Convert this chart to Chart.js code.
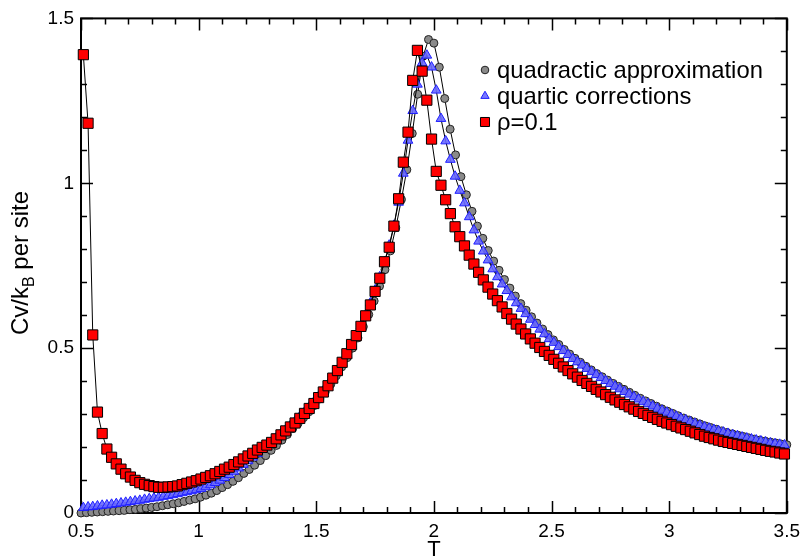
<!DOCTYPE html>
<html>
<head>
<meta charset="utf-8">
<script src="https://cdn.jsdelivr.net/npm/chart.js@4.4.0/dist/chart.umd.min.js"></script>
<style>
  html, body { margin: 0; padding: 0; background: #fff; }
  #wrap { width: 807px; height: 558px; }
</style>
</head>
<body>
<div id="wrap"><canvas id="cv"></canvas></div>
<script>
// T grid of the rho=0.1 and quartic runs
const tRho = [
  0.51,0.53,0.55,0.57,0.59,0.61,0.63,0.65,0.67,0.69,
  0.71,0.73,0.75,0.77,0.79,0.81,0.83,0.85,0.87,0.89,
  0.91,0.93,0.95,0.97,0.99,1.01,1.03,1.05,1.07,1.09,
  1.11,1.13,1.15,1.17,1.19,1.21,1.23,1.25,1.27,1.29,
  1.31,1.33,1.35,1.37,1.39,1.41,1.43,1.45,1.47,1.49,
  1.51,1.53,1.55,1.57,1.59,1.61,1.63,1.65,1.67,1.69,
  1.71,1.73,1.75,1.77,1.79,1.81,1.83,1.85,1.87,1.89,
  1.91,1.93,1.95,1.97,1.99,2.01,2.03,2.05,2.07,2.09,
  2.11,2.13,2.15,2.17,2.19,2.21,2.23,2.25,2.27,2.29,
  2.31,2.33,2.35,2.37,2.39,2.41,2.43,2.45,2.47,2.49,
  2.51,2.53,2.55,2.57,2.59,2.61,2.63,2.65,2.67,2.69,
  2.71,2.73,2.75,2.77,2.79,2.81,2.83,2.85,2.87,2.89,
  2.91,2.93,2.95,2.97,2.99,3.01,3.03,3.05,3.07,3.09,
  3.11,3.13,3.15,3.17,3.19,3.21,3.23,3.25,3.27,3.29,
  3.31,3.33,3.35,3.37,3.39,3.41,3.43,3.45,3.47,3.49
];

// rho = 0.1 (red squares)
const cvRho = [
  1.390,1.182,0.540,0.306,0.241,0.194,0.169,0.149,0.133,0.119,
  0.109,0.099,0.092,0.087,0.083,0.080,0.078,0.078,0.079,0.080,
  0.082,0.086,0.090,0.094,0.098,0.103,0.108,0.113,0.119,0.126,
  0.133,0.139,0.147,0.155,0.164,0.173,0.181,0.191,0.199,0.206,
  0.214,0.225,0.237,0.249,0.261,0.273,0.287,0.302,0.317,0.332,
  0.350,0.367,0.386,0.409,0.432,0.457,0.483,0.511,0.538,0.566,
  0.598,0.631,0.672,0.712,0.762,0.806,0.870,0.953,1.064,1.155,
  1.312,1.403,1.340,1.252,1.134,1.036,0.994,0.950,0.908,0.868,
  0.838,0.810,0.782,0.755,0.730,0.707,0.685,0.664,0.644,0.625,
  0.605,0.588,0.573,0.558,0.543,0.528,0.515,0.502,0.490,0.478,
  0.466,0.454,0.443,0.432,0.422,0.412,0.402,0.393,0.384,0.375,
  0.367,0.359,0.351,0.343,0.336,0.329,0.322,0.315,0.308,0.302,
  0.296,0.290,0.284,0.278,0.273,0.268,0.263,0.258,0.253,0.248,
  0.243,0.238,0.233,0.229,0.225,0.221,0.217,0.214,0.211,0.208,
  0.205,0.202,0.199,0.196,0.193,0.190,0.187,0.185,0.182,0.179
];

// quartic corrections (blue triangles), same T grid
const cvQuartic = [
  0.016,0.018,0.019,0.021,0.023,0.024,0.026,0.028,0.030,0.032,
  0.034,0.036,0.038,0.041,0.043,0.045,0.047,0.050,0.052,0.055,
  0.058,0.061,0.064,0.067,0.070,0.074,0.079,0.085,0.092,0.099,
  0.107,0.116,0.126,0.136,0.147,0.158,0.169,0.180,0.192,0.204,
  0.216,0.228,0.240,0.252,0.265,0.278,0.292,0.306,0.321,0.337,
  0.353,0.370,0.389,0.410,0.432,0.456,0.481,0.508,0.537,0.568,
  0.601,0.637,0.676,0.716,0.762,0.812,0.872,0.942,1.030,1.130,
  1.220,1.300,1.365,1.388,1.352,1.282,1.196,1.128,1.072,1.021,
  0.978,0.940,0.898,0.858,0.824,0.794,0.767,0.740,0.716,0.694,
  0.674,0.655,0.637,0.620,0.604,0.587,0.571,0.557,0.543,0.528,
  0.517,0.504,0.492,0.480,0.468,0.458,0.448,0.438,0.428,0.419,
  0.410,0.401,0.392,0.384,0.376,0.368,0.360,0.352,0.345,0.338,
  0.331,0.324,0.317,0.311,0.305,0.299,0.293,0.287,0.282,0.276,
  0.271,0.266,0.261,0.257,0.253,0.249,0.245,0.241,0.237,0.234,
  0.230,0.227,0.224,0.221,0.218,0.215,0.212,0.210,0.208,0.206
];

// quadratic approximation (grey circles) has its own T grid
const tQuad = [
  0.500,0.523,0.546,0.569,0.592,0.615,0.638,0.662,0.685,0.708,
  0.731,0.754,0.777,0.800,0.823,0.846,0.869,0.892,0.915,0.938,
  0.962,0.985,1.008,1.031,1.054,1.077,1.100,1.123,1.146,1.169,
  1.192,1.215,1.238,1.262,1.285,1.308,1.331,1.354,1.377,1.400,
  1.423,1.446,1.469,1.492,1.515,1.538,1.562,1.585,1.608,1.631,
  1.654,1.677,1.700,1.723,1.746,1.769,1.792,1.815,1.838,1.862,
  1.885,1.908,1.931,1.954,1.977,2.000,2.023,2.046,2.069,2.092,
  2.115,2.138,2.162,2.185,2.208,2.231,2.254,2.277,2.300,2.323,
  2.346,2.369,2.392,2.415,2.438,2.462,2.485,2.508,2.531,2.554,
  2.577,2.600,2.623,2.646,2.669,2.692,2.715,2.738,2.762,2.785,
  2.808,2.831,2.854,2.877,2.900,2.923,2.946,2.969,2.992,3.015,
  3.038,3.062,3.085,3.108,3.131,3.154,3.177,3.200,3.223,3.246,
  3.269,3.292,3.315,3.338,3.362,3.385,3.408,3.431,3.454,3.477,
  3.500
];

const cvQuad = [
  0.000,0.001,0.002,0.003,0.004,0.005,0.006,0.007,0.008,0.010,
  0.011,0.013,0.015,0.017,0.019,0.022,0.025,0.028,0.031,0.035,
  0.039,0.043,0.048,0.054,0.060,0.068,0.077,0.086,0.096,0.107,
  0.120,0.132,0.145,0.159,0.174,0.190,0.205,0.221,0.238,0.256,
  0.272,0.289,0.307,0.326,0.346,0.367,0.391,0.416,0.443,0.471,
  0.500,0.531,0.565,0.602,0.643,0.688,0.738,0.795,0.865,0.951,
  1.041,1.151,1.270,1.385,1.436,1.425,1.352,1.257,1.164,1.086,
  1.020,0.965,0.915,0.870,0.833,0.796,0.764,0.736,0.708,0.682,
  0.658,0.635,0.615,0.595,0.576,0.558,0.541,0.525,0.511,0.496,
  0.482,0.469,0.457,0.445,0.434,0.423,0.413,0.403,0.393,0.384,
  0.375,0.366,0.357,0.348,0.340,0.332,0.324,0.316,0.309,0.302,
  0.295,0.288,0.282,0.276,0.270,0.264,0.259,0.254,0.249,0.244,
  0.240,0.236,0.232,0.228,0.224,0.221,0.218,0.215,0.212,0.209,
  0.207
];

const xTicks = [0.5, 1, 1.5, 2, 2.5, 3, 3.5];
const yTicks = [0, 0.5, 1, 1.5];
const legendLabels = ['quadractic approximation', 'quartic corrections', 'ρ=0.1'];

const FONT = "'Liberation Sans', Arial, Helvetica, sans-serif";

function pairs(xs, ys) {
  return xs.map((x, i) => ({ x: x, y: ys[i] }));
}

// marker looks, reused by the hand drawn legend
const styles = {
  quad:    { pointStyle: 'circle',   radius: 4.0, fill: '#8a8a8a', stroke: '#222222' },
  quartic: { pointStyle: 'triangle', radius: 5.6, fill: 'rgba(105,105,255,0.9)', stroke: '#1f1fff' },
  rho:     { pointStyle: 'rect',     radius: 7.2, fill: '#ff0000', stroke: '#000000' }
};

function ds(label, data, st) {
  return {
    label: label,
    data: data,
    showLine: true,
    borderColor: '#000',
    borderWidth: 1,
    pointStyle: st.pointStyle,
    pointRadius: st.radius,
    pointBackgroundColor: st.fill,
    pointBorderColor: st.stroke,
    pointBorderWidth: 1,
    clip: false
  };
}

// frame, inward ticks on all four sides, titles and legend
const gracePlugin = {
  id: 'grace',
  beforeDatasetsDraw(chart) {
    const ctx = chart.ctx;
    const a = chart.chartArea;
    const xs = chart.scales.x, ys = chart.scales.y;
    ctx.save();
    ctx.strokeStyle = '#000';
    ctx.lineWidth = 1.5;
    // minor ticks every 0.1, major every 0.5
    for (let i = 0; i <= 30; i++) {
      const v = 0.5 + i * 0.1;
      const px = Math.round(xs.getPixelForValue(v)) + 0.5;
      const len = (i % 5 === 0) ? 12 : 6;
      ctx.beginPath();
      ctx.moveTo(px, a.bottom); ctx.lineTo(px, a.bottom - len);
      ctx.moveTo(px, a.top); ctx.lineTo(px, a.top + len);
      ctx.stroke();
    }
    for (let i = 0; i <= 15; i++) {
      const v = i * 0.1;
      const py = Math.round(ys.getPixelForValue(v)) + 0.5;
      const len = (i % 5 === 0) ? 12 : 6;
      ctx.beginPath();
      ctx.moveTo(a.left, py); ctx.lineTo(a.left + len, py);
      ctx.moveTo(a.right, py); ctx.lineTo(a.right - len, py);
      ctx.stroke();
    }
    ctx.lineWidth = 2;
    ctx.strokeRect(a.left, a.top, a.right - a.left, a.bottom - a.top);
    ctx.restore();
  },
  afterDraw(chart) {
    const ctx = chart.ctx;
    const a = chart.chartArea;
    ctx.save();
    ctx.fillStyle = '#000';

    // x title
    ctx.font = '22px ' + FONT;
    ctx.textAlign = 'center';
    ctx.textBaseline = 'alphabetic';
    ctx.fillText('T', (a.left + a.right) / 2, 556);

    // y title with subscript B
    ctx.save();
    ctx.translate(28, 263);
    ctx.rotate(-Math.PI / 2);
    ctx.textAlign = 'left';
    const big = '24px ' + FONT, small = '16px ' + FONT;
    ctx.font = big;
    const p1 = 'Cv/k', p3 = ' per site';
    const w1 = ctx.measureText(p1).width, w3 = ctx.measureText(p3).width;
    ctx.font = small;
    const w2 = ctx.measureText('B').width;
    let x0 = -(w1 + w2 + w3) / 2;
    ctx.font = big;
    ctx.fillText(p1, x0, 0);
    ctx.font = small;
    ctx.fillText('B', x0 + w1, 6);
    ctx.font = big;
    ctx.fillText(p3, x0 + w1 + w2, 0);
    ctx.restore();

    // legend
    const rows = [
      { st: styles.quad, r: 3.8, y: 70 },
      { st: styles.quartic, r: 4.8, y: 96 },
      { st: styles.rho, r: 6.4, y: 122 }
    ];
    rows.forEach((row, i) => {
      ctx.fillStyle = row.st.fill;
      ctx.strokeStyle = row.st.stroke;
      ctx.lineWidth = 1;
      Chart.helpers.drawPoint(ctx, { pointStyle: row.st.pointStyle, radius: row.r, rotation: 0, borderWidth: 1 }, 485, row.y);
      ctx.fillStyle = '#000';
      ctx.font = '23.8px ' + FONT;
      ctx.textAlign = 'left';
      ctx.textBaseline = 'middle';
      ctx.fillText(legendLabels[i], 497, row.y + 1);
    });
    ctx.restore();
  }
};

new Chart(document.getElementById('cv'), {
  type: 'scatter',
  data: {
    datasets: [
      ds(legendLabels[2], pairs(tRho, cvRho), styles.rho),
      ds(legendLabels[1], pairs(tRho, cvQuartic), styles.quartic),
      ds(legendLabels[0], pairs(tQuad, cvQuad), styles.quad)
    ]
  },
  options: {
    responsive: true,
    maintainAspectRatio: false,
    animation: false,
    layout: { padding: { top: 16, right: 16, left: 0, bottom: 0 } },
    plugins: { legend: { display: false }, tooltip: { enabled: false } },
    scales: {
      x: {
        type: 'linear',
        min: 0.5, max: 3.5,
        afterBuildTicks: s => { s.ticks = xTicks.map(v => ({ value: v })); },
        afterFit: s => { s.height = 45; },
        grid: { display: false, drawTicks: false },
        border: { display: false },
        ticks: {
          color: '#000', padding: 7, maxRotation: 0, autoSkip: false,
          font: { size: 19, family: FONT },
          callback: v => String(v)
        }
      },
      y: {
        min: 0, max: 1.5,
        afterBuildTicks: s => { s.ticks = yTicks.map(v => ({ value: v })); },
        afterFit: s => { s.width = 81; },
        grid: { display: false, drawTicks: false },
        border: { display: false },
        ticks: {
          color: '#000', padding: 7, autoSkip: false,
          font: { size: 19, family: FONT },
          callback: v => String(v)
        }
      }
    }
  },
  plugins: [gracePlugin]
});
</script>
</body>
</html>
